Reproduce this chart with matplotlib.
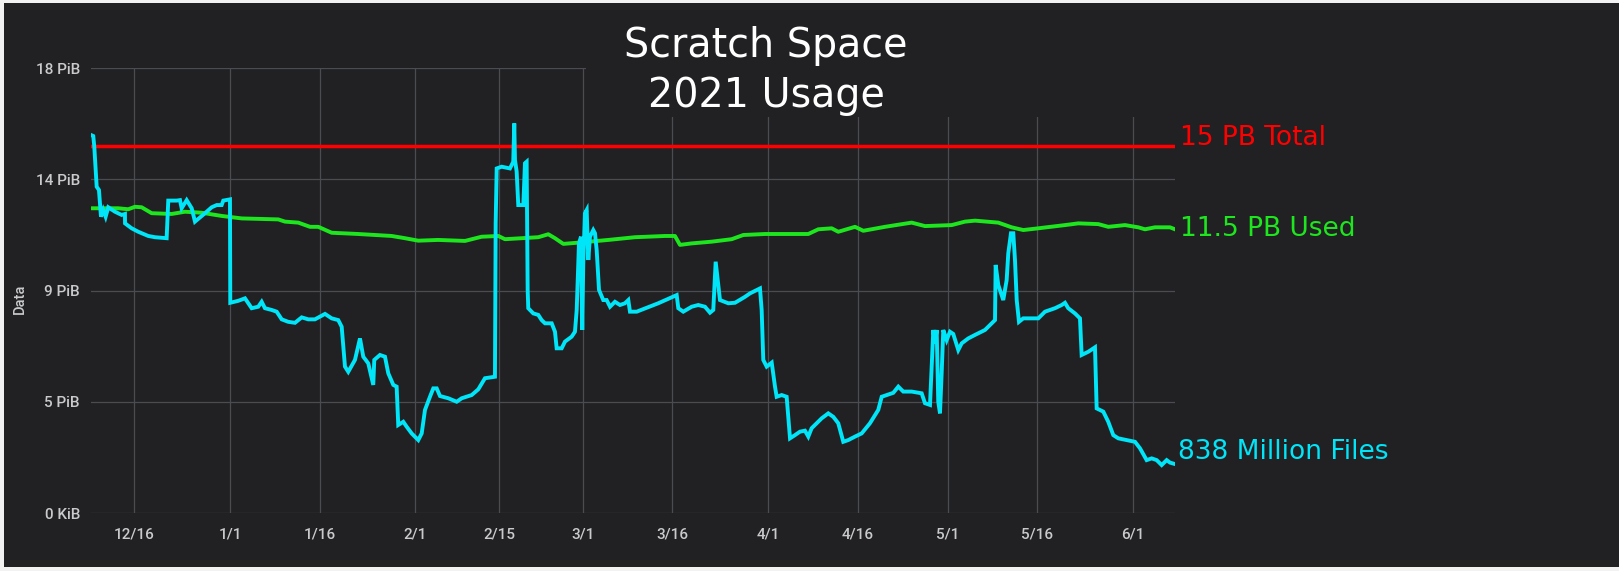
import numpy as np
import pandas as pd
import matplotlib
matplotlib.use("Agg")
import matplotlib.pyplot as plt
from matplotlib.patches import Rectangle

# --- данные (дни от 2021-01-01, значения в PiB) ---
files_day = [-23.58, -22.86, -22.69, -22.29, -21.91, -21.57, -21.19, -20.79, -20.35, -19.23,
             -18.11, -17.56, -17.55, -16.44, -15.33, -13.66, -12.54, -10.59, -10.32, -8.91,
             -8.36, -8.08, -7.24, -6.40, -5.85, -5.02, -4.18, -3.06, -2.22, -1.39,
             -1.12, 0.0, 0.05, 1.39, 2.51, 3.63, 4.73, 5.30, 5.85, 6.97,
             7.81, 8.65, 9.75, 10.87, 11.99, 13.09, 14.21, 15.89, 17.01, 18.11,
             18.68, 19.23, 19.78, 20.90, 21.74, 22.29, 23.13, 23.96, 24.13, 25.08,
             25.92, 26.47, 27.31, 27.87, 28.14, 28.98, 29.55, 30.38, 31.49, 32.06,
             32.61, 33.44, 34.00, 34.57, 35.12, 36.51, 37.91, 38.75, 40.42, 41.52,
             42.64, 44.31, 44.35, 44.43, 44.60, 45.43, 46.82, 47.37, 47.54, 47.66,
             47.94, 48.21, 49.05, 49.33, 49.61, 49.78, 49.88, 50.72, 51.56, 52.12,
             52.68, 53.80, 54.35, 54.63, 55.47, 56.02, 57.14, 57.69, 57.98, 58.36,
             58.70, 58.91, 59.08, 59.36, 59.65, 59.92, 60.20, 60.75, 61.04, 61.32,
             61.71, 62.42, 62.99, 63.55, 64.38, 65.22, 66.05, 66.61, 66.89, 68.01,
             71.62, 74.70, 74.97, 75.80, 77.21, 78.31, 79.43, 80.27, 80.82, 81.22,
             81.56, 81.94, 83.33, 84.45, 86.12, 86.96, 88.63, 88.91, 89.18, 89.75,
             90.59, 91.14, 91.42, 92.26, 93.09, 93.65, 94.48, 95.32, 96.15, 96.71,
             97.27, 98.11, 98.95, 100.05, 100.89, 101.72, 102.56, 103.39, 104.52, 105.64,
             107.02, 108.41, 108.98, 109.82, 110.92, 111.76, 112.59, 114.00, 115.67, 116.22,
             117.06, 117.34, 117.61, 117.89, 118.18, 118.44, 118.73, 119.01, 119.28, 119.85,
             120.40, 120.95, 121.79, 122.36, 123.46, 124.58, 126.25, 127.37, 127.93, 128.04,
             128.48, 129.31, 129.88, 130.15, 130.60, 130.99, 131.27, 131.56, 131.94, 132.66,
             135.17, 136.29, 137.96, 139.08, 139.63, 140.18, 141.30, 142.14, 142.42, 143.53,
             144.65, 144.93, 146.04, 146.87, 147.71, 148.55, 151.34, 152.17, 153.29, 154.13,
             154.97, 155.80, 156.64, 157.19, 158.03]
files_pib = [15.33, 15.25, 14.82, 13.20, 13.07, 11.99, 12.26, 11.99, 12.37, 12.19,
             12.06, 12.10, 11.72, 11.52, 11.38, 11.21, 11.16, 11.12, 12.64, 12.64,
             12.66, 12.33, 12.66, 12.33, 11.79, 11.96, 12.13, 12.37, 12.46, 12.46,
             12.64, 12.69, 8.51, 8.59, 8.69, 8.29, 8.35, 8.55, 8.29, 8.22,
             8.15, 7.84, 7.74, 7.70, 7.92, 7.84, 7.84, 8.06, 7.88, 7.81,
             7.54, 5.93, 5.72, 6.20, 7.07, 6.33, 6.06, 5.19, 6.20, 6.40,
             6.33, 5.66, 5.19, 5.12, 3.57, 3.70, 3.50, 3.23, 2.96, 3.23,
             4.18, 4.71, 5.05, 5.05, 4.74, 4.65, 4.51, 4.65, 4.78, 5.01,
             5.46, 5.52, 7.61, 11.72, 13.94, 14.01, 13.94, 14.21, 15.76, 14.28,
             13.81, 12.46, 12.46, 14.15, 14.21, 9.03, 8.29, 8.08, 8.02, 7.81,
             7.68, 7.68, 7.34, 6.67, 6.67, 6.94, 7.14, 7.34, 8.22, 10.91,
             11.18, 7.41, 10.11, 12.13, 12.26, 10.24, 11.18, 11.45, 11.32, 10.64,
             9.03, 8.62, 8.62, 8.35, 8.55, 8.42, 8.49, 8.62, 8.15, 8.15,
             8.49, 8.82, 8.29, 8.15, 8.35, 8.42, 8.35, 8.11, 8.22, 10.17,
             9.43, 8.62, 8.49, 8.51, 8.75, 8.89, 9.09, 8.22, 6.20, 5.93,
             6.09, 5.12, 4.71, 4.78, 4.71, 3.03, 3.16, 3.30, 3.34, 3.10,
             3.44, 3.64, 3.84, 4.04, 3.90, 3.64, 2.89, 2.96, 3.10, 3.23,
             3.64, 4.18, 4.71, 4.78, 4.87, 5.12, 4.92, 4.92, 4.85, 4.45,
             4.38, 5.93, 7.41, 6.87, 7.41, 4.51, 4.04, 5.66, 7.41, 7.00,
             7.34, 7.25, 6.60, 6.87, 7.07, 7.21, 7.41, 7.68, 7.81, 10.04,
             9.23, 8.62, 9.43, 10.51, 11.32, 11.32, 10.24, 8.62, 7.74, 7.88,
             7.88, 8.15, 8.29, 8.42, 8.51, 8.29, 8.08, 7.88, 6.40, 6.53,
             6.71, 4.24, 4.11, 3.70, 3.16, 3.03, 2.89, 2.63, 2.15, 2.22,
             2.15, 1.95, 2.15, 2.05, 1.99]

used_day = [-23.41, -18.68, -17.01, -15.89, -14.77, -13.09, -9.75, -7.53, -4.73, -1.39,
            1.96, 8.08, 9.20, 11.42, 13.38, 14.77, 17.01, 21.46, 27.04, 29.26,
            31.49, 34.83, 39.30, 42.09, 44.87, 45.99, 51.56, 53.23, 54.35, 55.74,
            58.24, 63.26, 67.73, 72.74, 74.41, 75.25, 77.21, 80.55, 83.90, 85.84,
            89.46, 96.71, 98.38, 100.62, 101.72, 104.52, 105.90, 109.53, 113.99, 116.22,
            120.69, 122.91, 124.58, 128.48, 130.72, 132.66, 135.17, 139.63, 141.86, 145.20,
            146.87, 149.67, 151.89, 153.01, 154.68, 157.19, 158.03]
used_pib = [12.33, 12.33, 12.29, 12.39, 12.37, 12.13, 12.10, 12.19, 12.15, 12.02,
            11.92, 11.88, 11.79, 11.75, 11.58, 11.58, 11.34, 11.29, 11.21, 11.12,
            11.02, 11.05, 11.01, 11.18, 11.21, 11.08, 11.16, 11.28, 11.12, 10.89,
            10.94, 11.05, 11.16, 11.21, 11.21, 10.85, 10.91, 10.98, 11.08, 11.25,
            11.29, 11.29, 11.48, 11.52, 11.38, 11.58, 11.42, 11.58, 11.75, 11.61,
            11.65, 11.79, 11.83, 11.75, 11.56, 11.45, 11.52, 11.65, 11.72, 11.69,
            11.58, 11.65, 11.56, 11.48, 11.56, 11.56, 11.48]

total_day = [-23.1, 158.03]
total_pib = [14.85, 14.85]

y_ticks = [0, 4.5, 9, 13.5, 18]
y_labels = ["0 KiB", "5 PiB", "9 PiB", "14 PiB", "18 PiB"]
x_ticks = ["2020-12-16", "2021-01-01", "2021-01-16", "2021-02-01", "2021-02-15", "2021-03-01",
           "2021-03-16", "2021-04-01", "2021-04-16", "2021-05-01", "2021-05-16", "2021-06-01"]
x_labels = ["12/16", "1/1", "1/16", "2/1", "2/15", "3/1", "3/16", "4/1", "4/16", "5/1", "5/16", "6/1"]
x_range = [-23.24, 158.03]

base = pd.Timestamp("2021-01-01")
to_dt = lambda d: base + pd.to_timedelta(np.array(d), unit="D")

bg = "#212124"
grid_c = "#494c50"
tick_c = "#c9cacc"

W, H = 1619, 571
fig = plt.figure(figsize=(W / 100, H / 100), dpi=100, facecolor=bg)
ax = fig.add_axes([91 / W, 1 - 513.3 / H, (1175 - 91) / W, (513.3 - 68) / H])
ax.set_facecolor(bg)

ax.plot(to_dt(total_day), total_pib, color="#ff0000", lw=2.5, zorder=3)
ax.plot(to_dt(used_day), used_pib, color="#1ee61e", lw=2.8, zorder=4)
ax.plot(to_dt(files_day), files_pib, color="#00e5f8", lw=2.8, zorder=5,
        solid_joinstyle="miter")

ax.set_xlim(to_dt(x_range))
ax.set_ylim(0, 18)
ax.set_yticks(y_ticks)
ax.set_yticklabels(y_labels)
ax.set_xticks(pd.to_datetime(x_ticks))
ax.set_xticklabels(x_labels)
ax.grid(True, color=grid_c, lw=0.9)
ax.set_axisbelow(True)
for s in ax.spines.values():
    s.set_visible(False)
ax.tick_params(length=0, colors=tick_c, labelsize=11, pad=8)
ax.tick_params(axis="x", pad=10)
for lab in ax.get_xticklabels() + ax.get_yticklabels():
    lab.set_family(["Roboto", "DejaVu Sans"])
    lab.set_fontweight(500)

fig.text(20 / W, 1 - 299 / H, "Data", rotation=90, color=tick_c, fontsize=10.5,
         family=["Roboto", "DejaVu Sans"], fontweight=500, ha="center", va="center")

# плашка заголовка закрывает сетку сверху
fig.patches.append(Rectangle((586 / W, 1 - 117 / H), (1200 - 586) / W, 117 / H,
                             transform=fig.transFigure, facecolor=bg, edgecolor="none",
                             zorder=1))

fig.text(766 / W, 1 - 57 / H, "Scratch Space", color="white", fontsize=28.5,
         ha="center", va="baseline", family="DejaVu Sans", zorder=6)
fig.text(766 / W, 1 - 107 / H, "2021 Usage", color="white", fontsize=28.5,
         ha="center", va="baseline", family="DejaVu Sans", zorder=6)

fig.text(1180 / W, 1 - 145 / H, "15 PB Total", color="#ff0000", fontsize=19,
         ha="left", va="baseline")
fig.text(1180 / W, 1 - 236 / H, "11.5 PB Used", color="#1ee61e", fontsize=19,
         ha="left", va="baseline")
fig.text(1178 / W, 1 - 459 / H, "838 Million Files", color="#00e5f8", fontsize=19,
         ha="left", va="baseline")

# светлая рамка по краям скриншота
for (x0, y0, w, h) in [(0, 0, W, 4), (0, 0, 4, H), (0, H - 3, W, 3)]:
    fig.patches.append(Rectangle((x0 / W, y0 / H), w / W, h / H, transform=fig.transFigure,
                                 facecolor="#f2f2f2", edgecolor="none", zorder=10))

fig.savefig("out.png", dpi=100, facecolor=bg)
